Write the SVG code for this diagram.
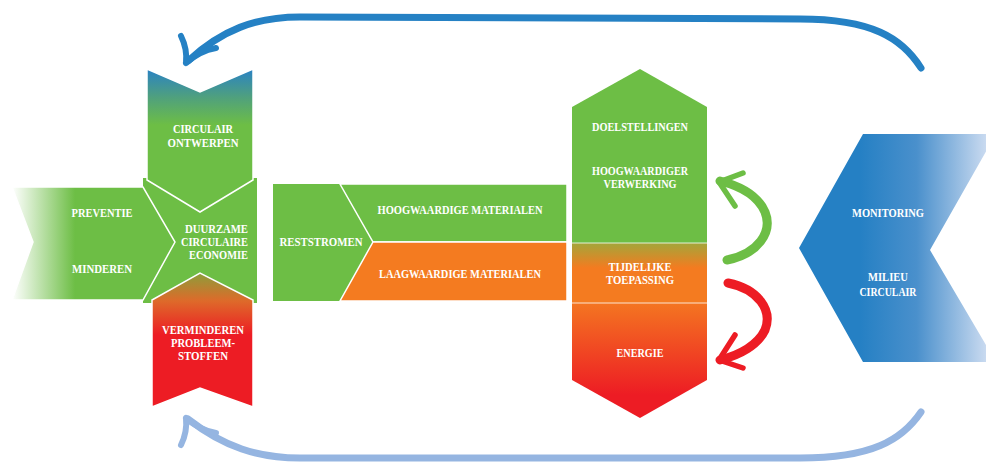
<svg xmlns="http://www.w3.org/2000/svg" width="986" height="463" viewBox="0 0 986 463">
<defs>
<linearGradient id="gLeft" x1="12" y1="0" x2="75" y2="0" gradientUnits="userSpaceOnUse">
<stop offset="0" stop-color="#ffffff"/><stop offset="1" stop-color="#6DBE45"/></linearGradient>
<linearGradient id="gTop" x1="0" y1="69" x2="0" y2="125" gradientUnits="userSpaceOnUse">
<stop offset="0" stop-color="#2A82C4"/><stop offset="0.5" stop-color="#4FA07E"/><stop offset="1" stop-color="#6DBE45"/></linearGradient>
<linearGradient id="gBot" x1="0" y1="273" x2="0" y2="335" gradientUnits="userSpaceOnUse">
<stop offset="0" stop-color="#8C9E3A"/><stop offset="0.45" stop-color="#DE6A2A"/><stop offset="1" stop-color="#ED1C24"/></linearGradient>
<linearGradient id="gOr" x1="0" y1="243" x2="0" y2="268" gradientUnits="userSpaceOnUse">
<stop offset="0" stop-color="#A3A63A"/><stop offset="1" stop-color="#F47B20"/></linearGradient>
<linearGradient id="gRed" x1="0" y1="303" x2="0" y2="395" gradientUnits="userSpaceOnUse">
<stop offset="0" stop-color="#F47521"/><stop offset="1" stop-color="#ED1C24"/></linearGradient>
<linearGradient id="gBlue" x1="860" y1="0" x2="986" y2="0" gradientUnits="userSpaceOnUse">
<stop offset="0" stop-color="#2580C4"/><stop offset="0.45" stop-color="#4A90CC"/><stop offset="1" stop-color="#C9DAF0"/></linearGradient>
</defs>
<style>
.t{font-family:"Liberation Serif","DejaVu Serif",serif;font-weight:bold;font-size:12px;fill:#ffffff;text-anchor:middle}
.w{stroke:#ffffff;stroke-width:1.5}
.g{fill:#6DBE45}
.ar{fill:none;stroke-linecap:round;stroke-linejoin:round}
</style>
<g id="connectors">
<path class="ar" d="M921,68 C902,38 872,19 800,19 L300,17 C255,17 222,30 188,61" stroke="#2581C4" stroke-width="7"/>
<path class="ar" d="M181,36 C186,46 187,53 186,63 M216,48 C204,50 195,55 186,63" stroke="#2581C4" stroke-width="6"/>
<path class="ar" d="M921,412 C902,440 872,458 800,458 L300,458 C258,458 224,447 188,419" stroke="#95B5E1" stroke-width="7"/>
<path class="ar" d="M181,445 C186,435 187,428 186,418 M216,433 C204,431 195,426 186,418" stroke="#95B5E1" stroke-width="6"/>
<path class="ar" d="M727,260 C758,254 773,232 765,212 C758,196 740,186 720,181" stroke="#6DBE45" stroke-width="9"/>
<path class="ar" d="M743,173 L719,182 L735,206" stroke="#6DBE45" stroke-width="5.5"/>
<path class="ar" d="M728,283 C758,289 773,310 765,330 C758,345 740,355 720,360" stroke="#ED1C24" stroke-width="9"/>
<path class="ar" d="M743,368 L719,360 L735,335" stroke="#ED1C24" stroke-width="5.5"/>
</g>
<g id="duurzame">
<rect x="143" y="178" width="114" height="125" class="g"/>
</g>
<g id="preventie">
<polygon points="12,187 143,187 175,242 143,300 12,300 33,242" fill="url(#gLeft)" class="w"/>
<text class="t" x="102" y="217" textLength="61" lengthAdjust="spacingAndGlyphs">PREVENTIE</text>
<text class="t" x="102" y="273" textLength="60" lengthAdjust="spacingAndGlyphs">MINDEREN</text>
</g>
<g id="circulair-ontwerpen">
<polygon points="147,69 200,92 253,69 253,180 200,212 147,180" fill="url(#gTop)" class="w"/>
<text class="t" x="203" y="133" textLength="60" lengthAdjust="spacingAndGlyphs">CIRCULAIR</text>
<text class="t" x="203" y="146.5" textLength="71" lengthAdjust="spacingAndGlyphs">ONTWERPEN</text>
</g>
<g id="verminderen">
<polygon points="152,300 200,273 253,300 253,407 200,388 152,407" fill="url(#gBot)" class="w"/>
<text class="t" x="203" y="334" textLength="82" lengthAdjust="spacingAndGlyphs">VERMINDEREN</text>
<text class="t" x="203" y="347" textLength="64" lengthAdjust="spacingAndGlyphs">PROBLEEM-</text>
<text class="t" x="203" y="360" textLength="50" lengthAdjust="spacingAndGlyphs">STOFFEN</text>
</g>
<g id="duurzame-label">
<text class="t" x="248" y="233" style="text-anchor:end" textLength="63" lengthAdjust="spacingAndGlyphs">DUURZAME</text>
<text class="t" x="248" y="246" style="text-anchor:end" textLength="67" lengthAdjust="spacingAndGlyphs">CIRCULAIRE</text>
<text class="t" x="248" y="259" style="text-anchor:end" textLength="59" lengthAdjust="spacingAndGlyphs">ECONOMIE</text>
</g>
<g id="reststromen">
<rect x="273" y="184" width="294" height="117" class="g"/>
<polygon points="340,184 567,184 567,242 373,242" class="g w"/>
<polygon points="373,242 567,242 567,301 340,301" fill="#F47B20" class="w"/>
<text class="t" x="321" y="246" textLength="83" lengthAdjust="spacingAndGlyphs">RESTSTROMEN</text>
<text class="t" x="460" y="214" textLength="165" lengthAdjust="spacingAndGlyphs">HOOGWAARDIGE MATERIALEN</text>
<text class="t" x="460" y="278" textLength="162" lengthAdjust="spacingAndGlyphs">LAAGWAARDIGE MATERIALEN</text>
</g>
<g id="hexagon">
<polygon points="640,69 707,107 707,243 572,243 572,107" class="g"/>
<rect x="572" y="243" width="135" height="60" fill="url(#gOr)"/>
<polygon points="572,303 707,303 707,380 640,418 572,380" fill="url(#gRed)"/>
<path d="M572,243 H707 M572,303 H707" stroke="#ffffff" stroke-width="1" opacity="0.8"/>
<text class="t" x="640" y="131" textLength="96" lengthAdjust="spacingAndGlyphs">DOELSTELLINGEN</text>
<text class="t" x="640" y="175" textLength="96" lengthAdjust="spacingAndGlyphs">HOOGWAARDIGER</text>
<text class="t" x="640" y="188" textLength="73" lengthAdjust="spacingAndGlyphs">VERWERKING</text>
<text class="t" x="640" y="271" textLength="63" lengthAdjust="spacingAndGlyphs">TIJDELIJKE</text>
<text class="t" x="640" y="284" textLength="68" lengthAdjust="spacingAndGlyphs">TOEPASSING</text>
<text class="t" x="640" y="357" textLength="47" lengthAdjust="spacingAndGlyphs">ENERGIE</text>
</g>
<g id="monitoring">
<polygon points="863,134 996,134 930,250 996,362 863,362 799,248" fill="url(#gBlue)"/>
<text class="t" x="888" y="217" textLength="72" lengthAdjust="spacingAndGlyphs">MONITORING</text>
<text class="t" x="888" y="281" textLength="40" lengthAdjust="spacingAndGlyphs">MILIEU</text>
<text class="t" x="888" y="296" textLength="57" lengthAdjust="spacingAndGlyphs">CIRCULAIR</text>
</g>
</svg>
